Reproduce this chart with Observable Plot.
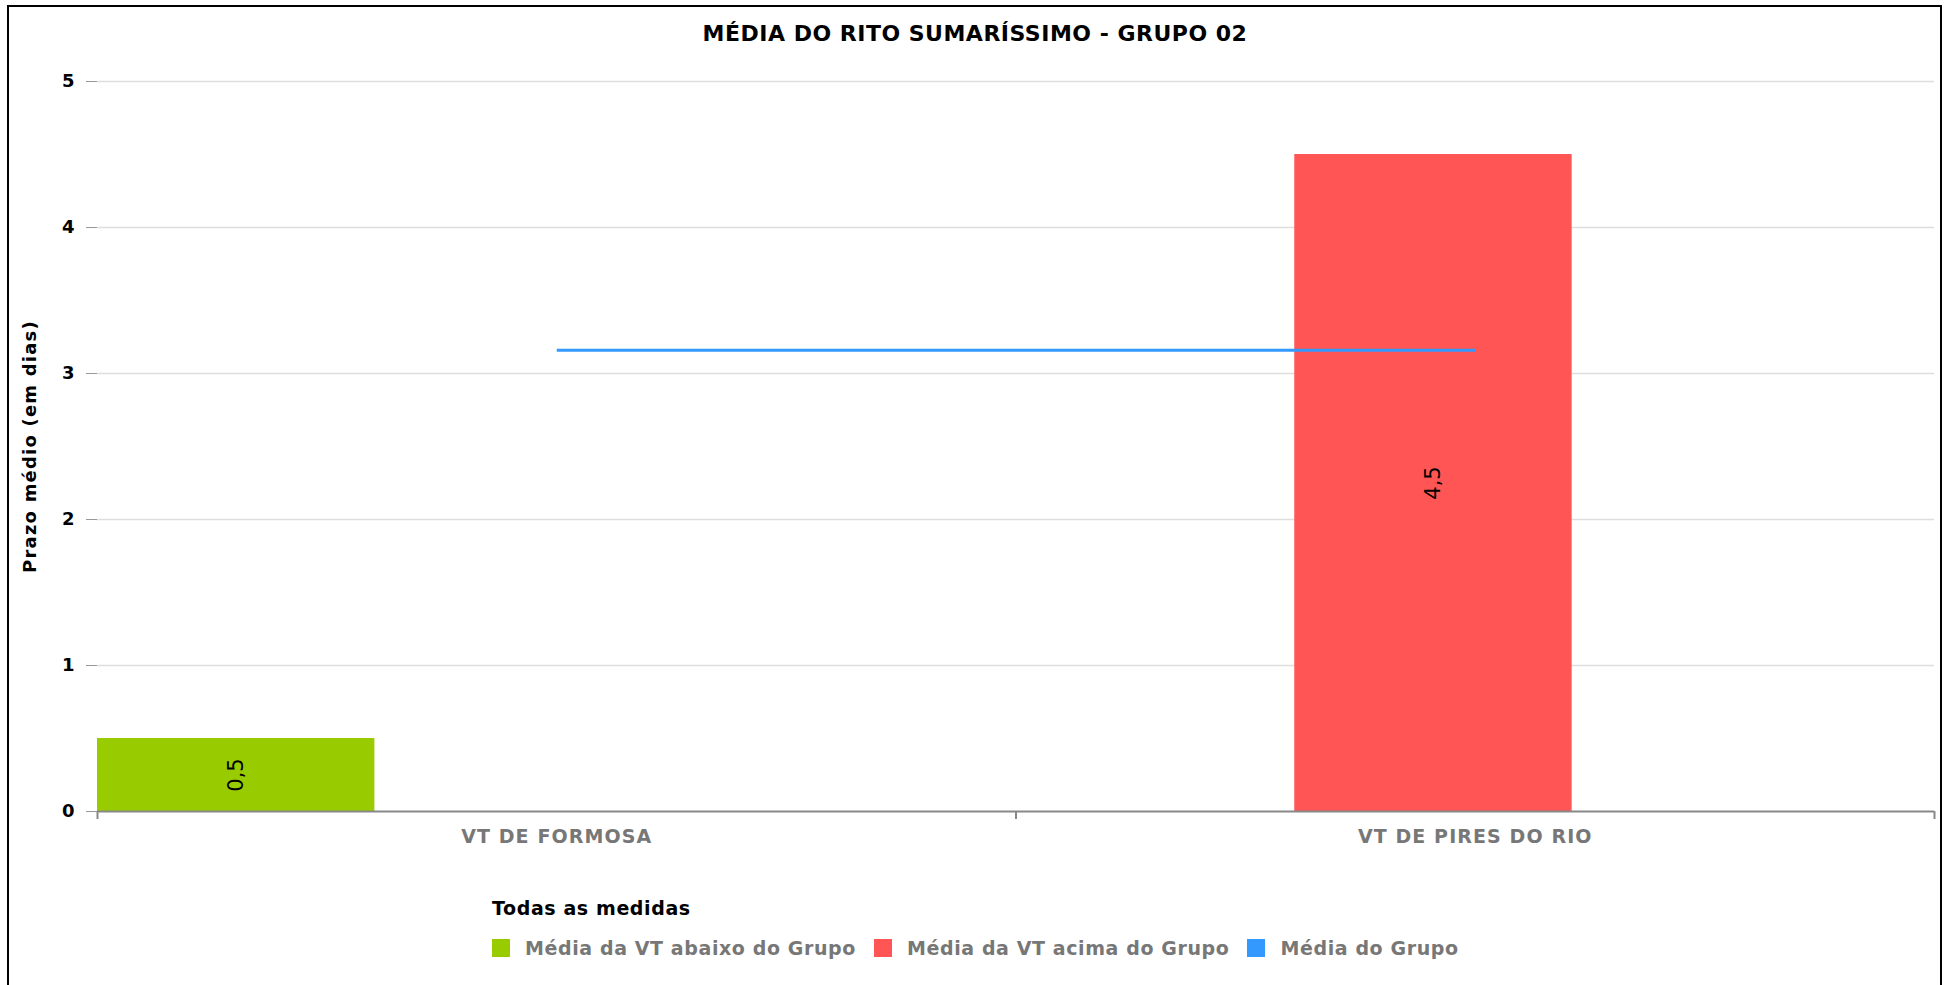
<!DOCTYPE html>
<html>
<head>
<meta charset="utf-8">
<script src="https://cdn.jsdelivr.net/npm/d3@7"></script>
<script src="https://cdn.jsdelivr.net/npm/@observablehq/plot@0.6"></script>
<style>
  body { margin: 0; background: #fff; font-family: "DejaVu Sans", sans-serif; }
  #wrap { position: relative; width: 1950px; height: 985px; overflow: hidden; background: #fff; }
  #frame { position: absolute; left: 7px; top: 5px; width: 1935px; height: 1000px; border: 2px solid #000; box-sizing: border-box; pointer-events: none; z-index: 5; }
  #title { position: absolute; left: 0; top: 22px; width: 1950px; text-align: center; font-weight: bold; font-size: 22px; letter-spacing: 0.5px; line-height: 24px; color: #000; }
  #chart { position: absolute; left: 0; top: 50px; }
  #legend { position: absolute; left: 492px; top: 896px; font-weight: bold; font-size: 19px; letter-spacing: 0.6px; }
  #legend .head { color: #000; line-height: 24px; }
  #legend .row { display: flex; align-items: center; margin-top: 16px; }
  #legend .sw { width: 18px; height: 18px; margin-right: 15px; }
  #legend .lab { color: #777; margin-right: 18px; line-height: 24px; }
  g[aria-label="x-axis tick label"] text { letter-spacing: 1.1px; }
</style>
</head>
<body>
<div id="wrap">
  <div id="title"></div>
  <div id="chart"></div>
  <div id="legend"></div>
  <div id="frame"></div>
</div>
<script>
// ---- data ----
const chartTitle = "MÉDIA DO RITO SUMARÍSSIMO - GRUPO 02";
const yLabel = "Prazo médio (em dias)";
const legendTitle = "Todas as medidas";
const categories = ["VT DE FORMOSA", "VT DE PIRES DO RIO"];
const seriesNames = ["Média da VT abaixo do Grupo", "Média da VT acima do Grupo", "Média do Grupo"];
const seriesColors = ["#99cc00", "#ff5555", "#3399ff"];
const abaixoDoGrupo = [0.5, null];
const acimaDoGrupo = [null, 4.5];
const mediaDoGrupo = [3.16, 3.16];
const yTicks = [0, 1, 2, 3, 4, 5];

// ---- build tables ----
const barSeries = [abaixoDoGrupo, acimaDoGrupo];
const bars = [];
barSeries.forEach((vals, s) => vals.forEach((v, i) => { if (v != null) bars.push({i, s, value: v}); }));
const media = mediaDoGrupo.map((v, i) => ({x: i + 0.5, value: v}));
const slot = 0.3035, barW = 0.302;
const fmt = v => String(v).replace(".", ",");

document.getElementById("title").textContent = chartTitle;

const chart = Plot.plot({
  width: 1950,
  height: 806,
  marginLeft: 97,
  marginRight: 16,
  marginTop: 31,
  marginBottom: 45,
  style: {fontFamily: "DejaVu Sans", background: "transparent", overflow: "visible"},
  x: {type: "linear", domain: [0, categories.length], axis: null},
  y: {domain: [0, 5], axis: null},
  marks: [
    Plot.gridY(yTicks.filter(d => d > 0), {stroke: "#dedede", strokeOpacity: 1, strokeWidth: 1.5}),
    Plot.axisY({ticks: yTicks, tickSize: 11, tickPadding: 12, fontSize: 18, fontWeight: "bold", stroke: "#999", fill: "#000", label: null, tickFormat: d => String(d)}),
    Plot.rectY(bars, {x1: d => d.i + d.s * slot, x2: d => d.i + d.s * slot + barW, y1: 0, y2: "value", fill: d => seriesColors[d.s]}),
    Plot.ruleY([0], {stroke: "#888", strokeWidth: 2}),
    Plot.axisX({ticks: d3.range(categories.length + 1), tickSize: 8, tickFormat: () => "", stroke: "#888", strokeWidth: 2, label: null}),
    Plot.axisX({ticks: categories.map((c, i) => i + 0.5), tickSize: 0, tickPadding: 18, tickFormat: t => categories[Math.round(t - 0.5)], fontSize: 19, fontWeight: "bold", fill: "#777", label: null}),
    Plot.text(bars, {x: d => d.i + d.s * slot + barW / 2, y: d => d.value / 2, text: d => fmt(d.value), rotate: -90, fontSize: 21, fill: "#000"}),
    Plot.lineY(media, {x: "x", y: "value", stroke: seriesColors[2], strokeWidth: 3, strokeLinecap: "butt"}),
    Plot.text([yLabel], {frameAnchor: "left", textAnchor: "middle", dx: -67, rotate: -90, fontSize: 18, fontWeight: "bold", fill: "#000"})
  ]
});
document.getElementById("chart").appendChild(chart);
chart.querySelectorAll("text").forEach(t => { if (t.textContent === yLabel) t.style.letterSpacing = "1.2px"; });

// legend
const lg = document.getElementById("legend");
const head = document.createElement("div");
head.className = "head";
head.textContent = legendTitle;
lg.appendChild(head);
const row = document.createElement("div");
row.className = "row";
seriesNames.forEach((name, k) => {
  const sw = document.createElement("div");
  sw.className = "sw";
  sw.style.background = seriesColors[k];
  const lab = document.createElement("div");
  lab.className = "lab";
  lab.textContent = name;
  row.appendChild(sw);
  row.appendChild(lab);
});
lg.appendChild(row);
</script>
</body>
</html>
